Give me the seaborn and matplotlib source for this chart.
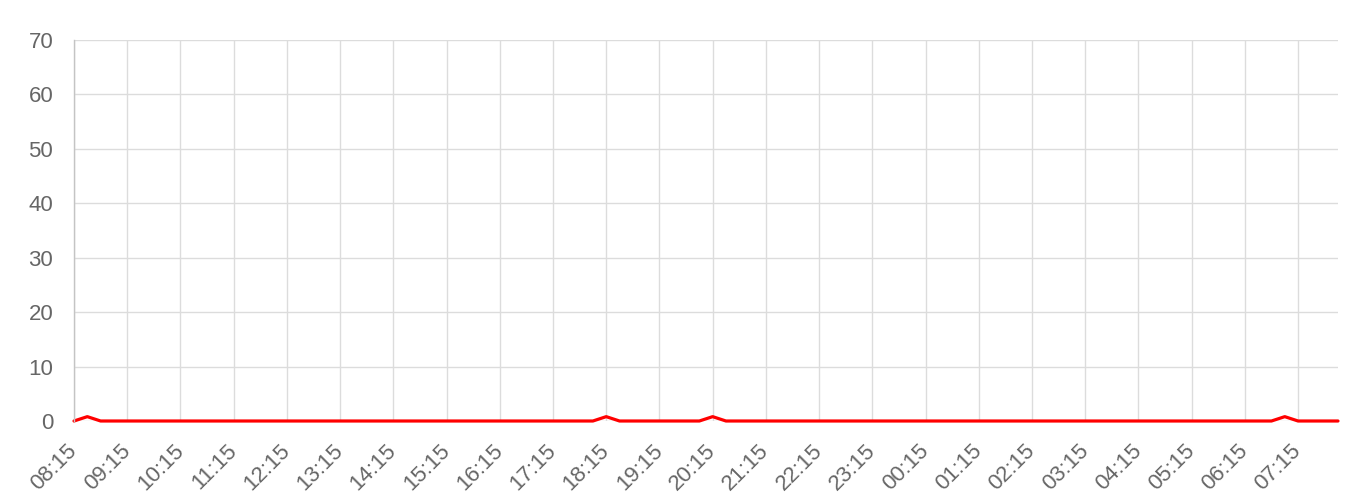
import numpy as np
import pandas as pd
import matplotlib
matplotlib.use("Agg")
import matplotlib.pyplot as plt
import seaborn as sns

# 15-minute samples from 08:15 to 08:00 next day
times = []
h, m = 8, 15
for _ in range(96):
    times.append(f"{h:02d}:{m:02d}")
    m += 15
    if m == 60:
        m = 0
        h = (h + 1) % 24

peak_times = ["08:30", "18:15", "20:15", "07:00"]
peak_value = 0.8
values = [peak_value if t in peak_times else 0 for t in times]

tick_labels = ["08:15", "09:15", "10:15", "11:15", "12:15", "13:15", "14:15", "15:15",
               "16:15", "17:15", "18:15", "19:15", "20:15", "21:15", "22:15", "23:15",
               "00:15", "01:15", "02:15", "03:15", "04:15", "05:15", "06:15", "07:15"]
y_ticks = [0, 10, 20, 30, 40, 50, 60, 70]

df = pd.DataFrame({"idx": np.arange(len(times)), "time": times, "value": values})

sns.set_theme(style="white")
plt.rcParams["font.family"] = ["Liberation Sans", "DejaVu Sans"]

fig = plt.figure(figsize=(13.6, 5.03), dpi=100)
ax = fig.add_axes([74/1360, 1-421/503, (1338-74)/1360, (421-40)/503])

sns.lineplot(data=df, x="idx", y="value", ax=ax, color="#ff0000", linewidth=2.3)
for ln in ax.lines:
    ln.set_clip_on(False)
    ln.set_solid_joinstyle("round")

grid_c = "#dcdcdc"
ax.set_xlim(0, len(times) - 1)
ax.set_ylim(0, 70)
tick_pos = [times.index(t) for t in tick_labels]
ax.set_xticks(tick_pos)
ax.set_xticklabels(tick_labels, rotation=45, ha="right", va="center", rotation_mode="anchor")
ax.set_yticks(y_ticks)
ax.set_yticklabels([str(v) for v in y_ticks])
ax.grid(True, color=grid_c, linewidth=1)
ax.set_axisbelow(True)
ax.set_xlabel("")
ax.set_ylabel("")
for s in ["top", "right", "bottom"]:
    ax.spines[s].set_visible(False)
ax.spines["left"].set_color("#c4c4c4")
ax.spines["left"].set_linewidth(1)
ax.tick_params(axis="both", colors=grid_c, labelcolor="#666666", labelsize=16,
               length=11, width=1)
ax.tick_params(axis="y", pad=4)
ax.tick_params(axis="x", pad=8)

fig.savefig("out.png", dpi=100, facecolor="white")
